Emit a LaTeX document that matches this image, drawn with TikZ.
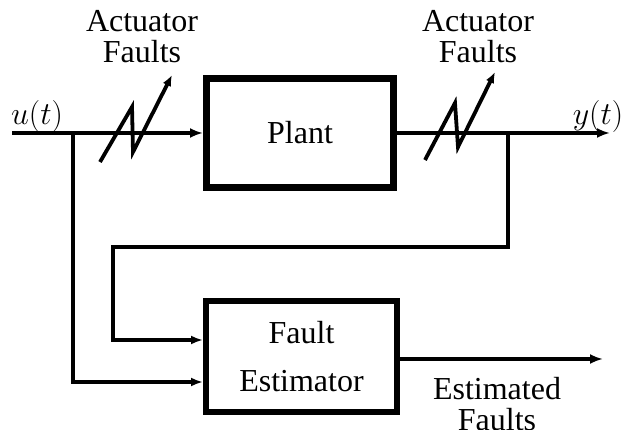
\RequirePackage{fix-cm}
\documentclass[tikz,border=0pt]{standalone}
\usepackage{fontspec}
\setmainfont{Liberation Serif}
\usetikzlibrary{arrows.meta,calc}
\begin{document}
\begin{tikzpicture}[x=1pt,y=-1pt,
  arr/.style={line width=4.5pt,-{Latex[length=13pt,width=10pt]}},
  thinarr/.style={line width=3.6pt,-{Latex[length=12pt,width=9pt]}},
  blk/.style={draw,line width=7pt,rectangle,inner sep=0pt,font=\fontsize{32}{34}\selectfont},
  lbl/.style={inner sep=0pt,align=center,font=\fontsize{32}{31}\selectfont},
  fault/.style={line width=3.8pt,-{Latex[length=11pt,width=9pt]}}]
\useasboundingbox (0,0) rectangle (622,430);
\node[blk,minimum width=187pt,minimum height=109pt] (plant) at (300,133) {Plant};
\node[blk,line width=6pt,minimum width=191pt,minimum height=111pt,align=center,font=\fontsize{32}{48}\selectfont] (est) at (301.5,356.5) {Fault\\Estimator};
\coordinate (uin) at (12,133);
\coordinate (br1) at (73,133);
\coordinate (yend) at (610,133);
\coordinate (br2) at (508,133);
\coordinate (fb1) at (508,247);
\coordinate (fb2) at (113,247);
\coordinate (eend) at (603,359);
\draw[arr] (uin) -- (plant.west);
\draw[arr] (plant.east) -- (yend);
\draw[thinarr] (br1) |- ([yshift=-25.5pt]est.west);
\draw[thinarr] (br2) -- (fb1) -- (fb2) |- ([yshift=16.5pt]est.west);
\draw[arr] (est.east |- eend) -- (eend);
\draw[fault] (100,162) -- (132,107) -- (133,152) -- (172,75);
\draw[fault] (425,160) -- (455,103) -- (458,147) -- (495,72);
\node[lbl,anchor=base] (lf) at (142,63) {Actuator\\Faults};
\node[lbl,anchor=base] (rf) at (478,63) {Actuator\\Faults};
\node[lbl,anchor=base] (u) at (37,125) {$u(t)$};
\node[lbl,anchor=base] (y) at (598,125) {$y(t)$};
\node[lbl,anchor=base] (ef) at (497,431) {Estimated\\Faults};
\end{tikzpicture}
\end{document}
